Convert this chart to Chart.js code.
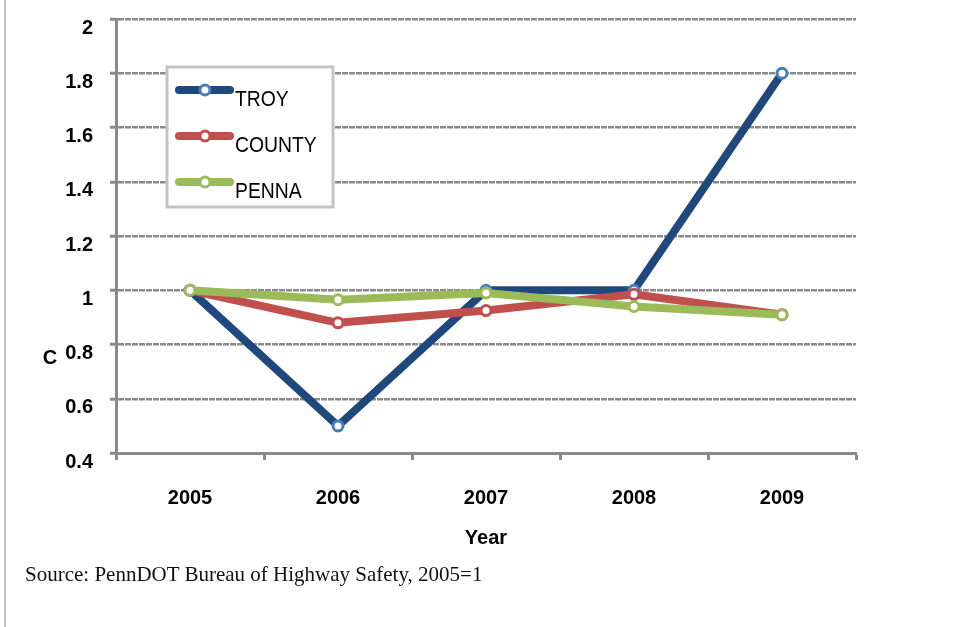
<!DOCTYPE html>
<html>
<head>
<meta charset="utf-8">
<script src="https://cdn.jsdelivr.net/npm/chart.js@4/dist/chart.umd.min.js"></script>
<style>
body { margin: 0; background: #fff; }
#wrap { position: relative; width: 955px; height: 627px; overflow: hidden; }
#edge { position: absolute; left: 4px; top: 0; width: 2px; height: 627px; background: #c6c6c6; }
#source { position: absolute; left: 25px; top: 564px; font-family: 'Liberation Serif'; font-size: 21px; line-height: 21px; color: #111; white-space: nowrap; }
canvas { position: absolute; left: 0; top: 0; }
</style>
</head>
<body>
<div id="wrap">
    <canvas id="chart" width="955" height="627"></canvas>
    <div id="edge"></div>
    <div id="source">Source: PennDOT Bureau of Highway Safety, 2005=1</div>
</div>
<script>
const years = ['2005', '2006', '2007', '2008', '2009'];
const troy = [1.0, 0.5, 1.0, 1.0, 1.8];
const county = [1.0, 0.88, 0.925, 0.985, 0.91];
const penna = [1.0, 0.965, 0.99, 0.94, 0.91];
const yTicks = [0.4, 0.6, 0.8, 1.0, 1.2, 1.4, 1.6, 1.8, 2.0];

const gray = '#8a8a8a';
const tickFont = { family: 'Liberation Sans', size: 20, weight: 'bold' };

// boxed legend in the upper left, line + hollow marker + label
const boxLegend = {
    id: 'boxLegend',
    afterDraw(chart) {
        const ctx = chart.ctx;
        ctx.save();
        ctx.fillStyle = '#fff';
        ctx.fillRect(167, 67, 166, 140);
        ctx.strokeStyle = '#c3c3c3';
        ctx.lineWidth = 3;
        ctx.strokeRect(167, 67, 166, 140);
        chart.data.datasets.forEach((ds, i) => {
            const y = 90 + i * 46;
            ctx.strokeStyle = ds.borderColor;
            ctx.lineWidth = 8;
            ctx.lineCap = 'round';
            ctx.beginPath();
            ctx.moveTo(179, y);
            ctx.lineTo(230, y);
            ctx.stroke();
            ctx.beginPath();
            ctx.arc(205, y, 5, 0, Math.PI * 2);
            ctx.fillStyle = '#fff';
            ctx.fill();
            ctx.lineWidth = 3;
            ctx.strokeStyle = ds.pointBorderColor;
            ctx.stroke();
            // condensed label, the original face is narrower than Arial
            ctx.save();
            ctx.translate(235, y + 10);
            ctx.scale(0.88, 1);
            ctx.fillStyle = '#000';
            ctx.font = '22px "Liberation Sans"';
            ctx.textBaseline = 'middle';
            ctx.textAlign = 'left';
            ctx.fillText(ds.label, 0, 0);
            ctx.restore();
        });
        // the lone "C" axis label next to 0.8
        ctx.fillStyle = '#000';
        ctx.font = 'bold 20px "Liberation Sans"';
        ctx.textAlign = 'center';
        ctx.textBaseline = 'middle';
        ctx.fillText('C', 50, 358);
        ctx.restore();
    }
};

new Chart(document.getElementById('chart').getContext('2d'), {
    type: 'line',
    data: {
        labels: years,
        datasets: [{
            label: 'TROY',
            data: troy,
            borderColor: '#1f497d',
            pointBorderColor: '#4a7ebb',
            order: 3
        }, {
            label: 'COUNTY',
            data: county,
            borderColor: '#c0504d',
            pointBorderColor: '#c0504d',
            order: 2
        }, {
            label: 'PENNA',
            data: penna,
            borderColor: '#9bbb59',
            pointBorderColor: '#9bbb59',
            order: 1
        }]
    },
    options: {
        responsive: false,
        animation: false,
        datasets: {
            line: {
                borderWidth: 8,
                tension: 0,
                pointRadius: 5,
                pointBorderWidth: 3,
                pointBackgroundColor: '#fff',
                pointHoverRadius: 5
            }
        },
        layout: { padding: { top: 19, right: 99, left: 0, bottom: 64 } },
        plugins: {
            legend: { display: false },
            tooltip: { enabled: false }
        },
        scales: {
            x: {
                offset: true,
                grid: {
                    offset: true,
                    drawOnChartArea: false,
                    drawTicks: true,
                    tickLength: 7,
                    tickColor: gray,
                    tickWidth: 3
                },
                border: { color: gray, width: 3 },
                ticks: { padding: 26, color: '#000', font: tickFont },
                title: {
                    display: true,
                    text: 'Year',
                    color: '#000',
                    font: { family: 'Liberation Sans', size: 20, weight: 'bold' },
                    padding: { top: 4, bottom: 13 }
                },
                afterFit: s => {
                    s.height = 110;
                    s.paddingLeft = 0;
                    s.paddingRight = 0;
                }
            },
            y: {
                min: 0.4,
                max: 2,
                afterBuildTicks: s => { s.ticks = yTicks.map(v => ({ value: v })); },
                grid: {
                    color: gray,
                    lineWidth: 2.5,
                    tickLength: 6,
                    tickColor: gray,
                    tickWidth: 3
                },
                border: { color: gray, width: 3, dash: [6, 1] },
                ticks: {
                    padding: 17,
                    labelOffset: 9,
                    color: '#000',
                    font: tickFont,
                    callback: v => String(Number(v.toFixed(1)))
                },
                afterFit: s => {
                    s.width = 116;
                    s.paddingTop = 0;
                    s.paddingBottom = 0;
                }
            }
        }
    },
    plugins: [boxLegend]
});
</script>
</body>
</html>
